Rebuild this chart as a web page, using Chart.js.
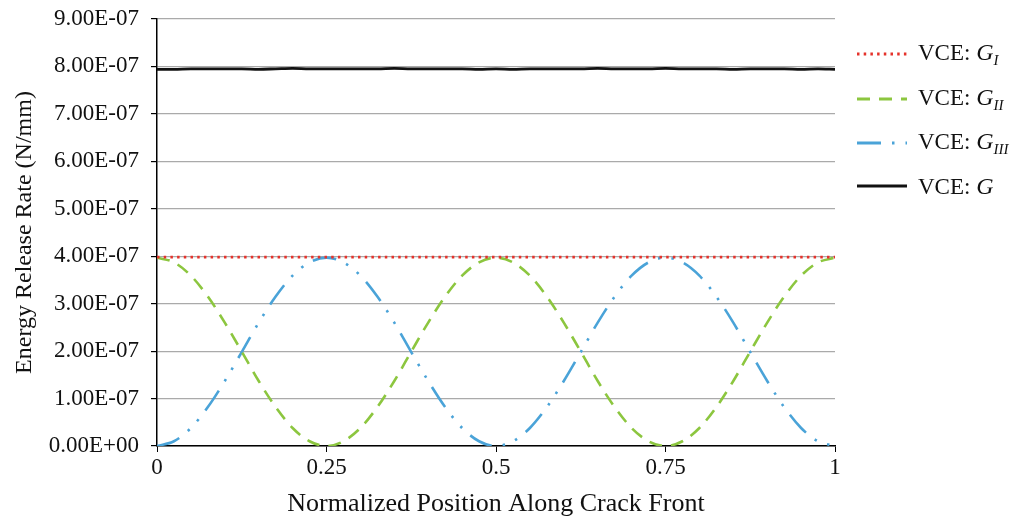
<!DOCTYPE html>
<html>
<head>
<meta charset="utf-8">
<script src="https://cdn.jsdelivr.net/npm/chart.js@4"></script>
<style>
  body { margin: 0; background: #fff; }
  #wrap { position: relative; width: 1017px; height: 521px; }
  #legend { position: absolute; left: 857px; top: 0; font-family: "Liberation Serif", serif; font-size: 23px; color: #111; }
  .item { position: absolute; left: 0; display: flex; align-items: center; white-space: nowrap; }
  .item svg { margin-right: 11px; }
  .item i { font-style: italic; font-size: 24px; }
  .item sub { font-size: 15px; vertical-align: -5px; }
</style>
</head>
<body>
<div id="wrap">
  <canvas id="chart" width="1017" height="521"></canvas>
  <div id="legend"></div>
</div>
<script>
// positions along crack front
const xPos = [0, 0.025, 0.05, 0.075, 0.1, 0.125, 0.15, 0.175, 0.2, 0.225, 0.25,
  0.275, 0.3, 0.325, 0.35, 0.375, 0.4, 0.425, 0.45, 0.475, 0.5,
  0.525, 0.55, 0.575, 0.6, 0.625, 0.65, 0.675, 0.7, 0.725, 0.75,
  0.775, 0.8, 0.825, 0.85, 0.875, 0.9, 0.925, 0.95, 0.975, 1];

// energy release rates, N/mm
const gI = [3.98e-7, 3.98e-7, 3.98e-7, 3.98e-7, 3.98e-7, 3.98e-7, 3.98e-7, 3.98e-7, 3.98e-7, 3.98e-7, 3.98e-7,
  3.98e-7, 3.98e-7, 3.98e-7, 3.98e-7, 3.98e-7, 3.98e-7, 3.98e-7, 3.98e-7, 3.98e-7, 3.98e-7,
  3.98e-7, 3.98e-7, 3.98e-7, 3.98e-7, 3.98e-7, 3.98e-7, 3.98e-7, 3.98e-7, 3.98e-7, 3.98e-7,
  3.98e-7, 3.98e-7, 3.98e-7, 3.98e-7, 3.98e-7, 3.98e-7, 3.98e-7, 3.98e-7, 3.98e-7, 3.98e-7];

const gII = [3.97e-7, 3.87e-7, 3.59e-7, 3.15e-7, 2.60e-7, 1.99e-7, 1.37e-7, 0.82e-7, 0.38e-7, 0.10e-7, 0.00,
  0.10e-7, 0.38e-7, 0.82e-7, 1.37e-7, 1.99e-7, 2.60e-7, 3.15e-7, 3.59e-7, 3.87e-7, 3.97e-7,
  3.87e-7, 3.59e-7, 3.15e-7, 2.60e-7, 1.99e-7, 1.37e-7, 0.82e-7, 0.38e-7, 0.10e-7, 0.00,
  0.10e-7, 0.38e-7, 0.82e-7, 1.37e-7, 1.99e-7, 2.60e-7, 3.15e-7, 3.59e-7, 3.87e-7, 3.97e-7];

const gIII = [0.00, 0.10e-7, 0.38e-7, 0.82e-7, 1.37e-7, 1.98e-7, 2.60e-7, 3.15e-7, 3.59e-7, 3.87e-7, 3.97e-7,
  3.87e-7, 3.59e-7, 3.15e-7, 2.60e-7, 1.98e-7, 1.37e-7, 0.82e-7, 0.38e-7, 0.10e-7, 0.00,
  0.10e-7, 0.38e-7, 0.82e-7, 1.37e-7, 1.98e-7, 2.60e-7, 3.15e-7, 3.59e-7, 3.87e-7, 3.97e-7,
  3.87e-7, 3.59e-7, 3.15e-7, 2.60e-7, 1.98e-7, 1.37e-7, 0.82e-7, 0.38e-7, 0.10e-7, 0.00];

const gTotal = [7.94e-7, 7.94e-7, 7.95e-7, 7.95e-7, 7.95e-7, 7.95e-7, 7.94e-7, 7.95e-7, 7.96e-7, 7.95e-7, 7.95e-7,
  7.95e-7, 7.95e-7, 7.95e-7, 7.96e-7, 7.95e-7, 7.95e-7, 7.95e-7, 7.95e-7, 7.94e-7, 7.95e-7,
  7.94e-7, 7.95e-7, 7.95e-7, 7.95e-7, 7.95e-7, 7.96e-7, 7.95e-7, 7.95e-7, 7.95e-7, 7.96e-7,
  7.95e-7, 7.95e-7, 7.95e-7, 7.94e-7, 7.95e-7, 7.95e-7, 7.95e-7, 7.94e-7, 7.95e-7, 7.94e-7];

const xTicks = [0, 0.25, 0.5, 0.75, 1];

const series = [
  { label: "G<sub>I</sub>", data: gI, color: "#e5322b", dash: [2.5, 4.2], width: 2.6 },
  { label: "G<sub>II</sub>", data: gII, color: "#8cc63f", dash: [13, 9], width: 2.6 },
  { label: "G<sub>III</sub>", data: gIII, color: "#4aa3d8", dash: [24, 11, 2.5, 11, 2.5, 11], width: 2.6 },
  { label: "G", data: gTotal, color: "#111111", dash: [], width: 2.8 },
];

const font = { family: "Liberation Serif", size: 23 };

new Chart(document.getElementById("chart"), {
  type: "line",
  data: {
    datasets: series.map((s) => ({
      label: s.label,
      data: s.data.map((v, i) => ({ x: xPos[i], y: v })),
      borderColor: s.color,
      borderDash: s.dash,
      borderWidth: s.width,
      pointRadius: 0,
      cubicInterpolationMode: "monotone",
    })),
  },
  options: {
    responsive: false,
    animation: false,
    layout: { padding: { top: 19, right: 182, left: 0, bottom: 0 } },
    plugins: { legend: { display: false }, tooltip: { enabled: false } },
    scales: {
      x: {
        type: "linear",
        min: 0,
        max: 1,
        afterFit: (s) => { s.height = 75; s.paddingLeft = 0; s.paddingRight = 0; },
        afterBuildTicks: (s) => { s.ticks = xTicks.map((v) => ({ value: v })); },
        ticks: { color: "#111", font, padding: 2, callback: (v) => String(v) },
        grid: { drawOnChartArea: false, tickColor: "#000", tickLength: 6 },
        border: { color: "#000", width: 1.5 },
        title: { display: true, text: "Normalized Position Along Crack Front", color: "#111", font: { family: "Liberation Serif", size: 26 }, padding: { top: 0, bottom: 1 } },
      },
      y: {
        min: 0,
        max: 9e-7,
        afterFit: (s) => { s.width = 157; s.paddingTop = 0; s.paddingBottom = 0; },
        ticks: {
          stepSize: 1e-7,
          color: "#111",
          font,
          padding: 12,
          callback: (v) => v.toExponential(2).toUpperCase().replace(/E([+-])(\d)$/, "E$10$2"),
        },
        grid: { color: "#aaaaaa", lineWidth: 1.2, tickColor: "#000", tickLength: 6 },
        border: { color: "#000", width: 1.5 },
        title: { display: true, text: "Energy Release Rate (N/mm)", color: "#111", font: { family: "Liberation Serif", size: 24 }, padding: { top: 10, bottom: 0 } },
      },
    },
  },
});

// legend with italic subscripts
const legend = document.getElementById("legend");
const rows = [54, 99, 143, 186];
series.forEach((s, i) => {
  const div = document.createElement("div");
  div.className = "item";
  div.style.top = rows[i] - 16 + "px";
  const dash = s.dash.length ? s.dash.join(" ") : "none";
  div.innerHTML =
    `<svg width="50" height="32"><line x1="0" y1="16" x2="50" y2="16" stroke="${s.color}" stroke-width="${s.width + 0.4}" stroke-dasharray="${dash}"/></svg>` +
    `<span>VCE: <i>${s.label}</i></span>`;
  legend.appendChild(div);
});
</script>
</body>
</html>
